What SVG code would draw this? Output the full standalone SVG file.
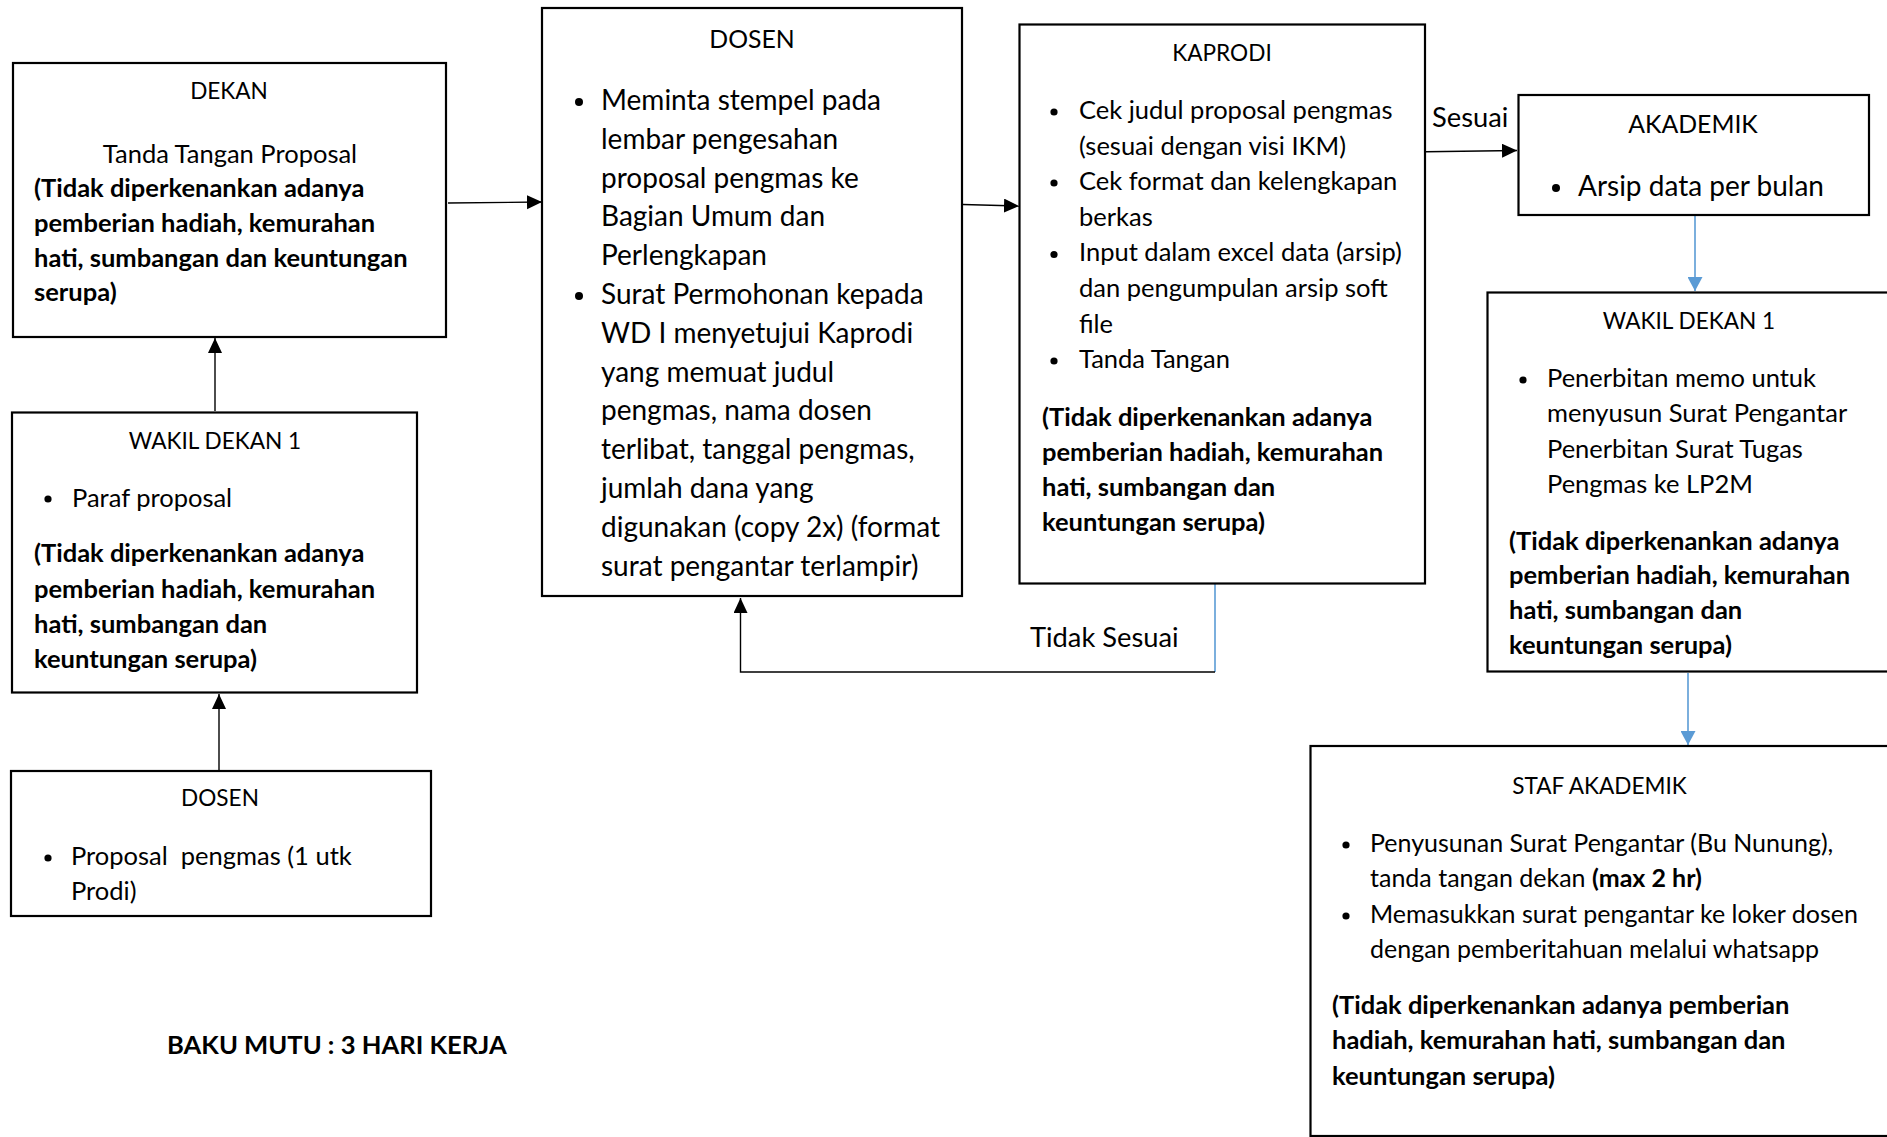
<svg xmlns="http://www.w3.org/2000/svg" width="1887" height="1137" viewBox="0 0 1887 1137">
<defs>
<style>
.box{fill:#fff;stroke:#000;stroke-width:2.2}
.t{font-family:Lato,"Liberation Sans",sans-serif;font-size:25.5px;fill:#000}
.tl{font-family:Lato,"Liberation Sans",sans-serif;font-size:28px;fill:#000}
.h{font-family:Lato,"Liberation Sans",sans-serif;font-size:22.6px;fill:#000;text-anchor:middle}
.hl{font-family:Lato,"Liberation Sans",sans-serif;font-size:24.8px;fill:#000;text-anchor:middle}
.lab{font-family:Lato,"Liberation Sans",sans-serif;font-size:27.3px;fill:#000}
.b{font-family:Lato,"Liberation Sans",sans-serif;font-size:25.5px;font-weight:bold;fill:#000}
.bl{font-family:Lato,"Liberation Sans",sans-serif;font-size:25.6px;font-weight:bold;fill:#000}
.c{text-anchor:middle}
.dot{fill:#000}
.ln{fill:none;stroke:#000;stroke-width:1.4}
.lb{fill:none;stroke:#5B9BD5;stroke-width:1.6}
</style>
<marker id="ah" markerUnits="userSpaceOnUse" markerWidth="16" markerHeight="15" refX="15" refY="7" orient="auto">
<path d="M0,0 L15,7 L0,14 z" fill="#000"/>
</marker>
<marker id="ahb" markerUnits="userSpaceOnUse" markerWidth="16" markerHeight="15" refX="14" refY="7.5" orient="auto">
<path d="M0,0 L14,7.5 L0,15 z" fill="#5B9BD5"/>
</marker>
</defs>
<rect width="1887" height="1137" fill="#fff"/>

<g id="connectors">
<line class="ln" x1="219" y1="771" x2="219" y2="694" marker-end="url(#ah)"/>
<line class="ln" x1="215" y1="411" x2="215" y2="338" marker-end="url(#ah)"/>
<line class="ln" x1="448" y1="203" x2="542" y2="202" marker-end="url(#ah)"/>
<line class="ln" x1="963" y1="204.5" x2="1019" y2="206" marker-end="url(#ah)"/>
<line class="ln" x1="1426" y1="151.7" x2="1517" y2="150.5" marker-end="url(#ah)"/>
<line class="lb" x1="1695" y1="216" x2="1695" y2="291" marker-end="url(#ahb)"/>
<line class="lb" x1="1688" y1="673" x2="1688" y2="745" marker-end="url(#ahb)"/>
<line class="lb" x1="1215" y1="584" x2="1215" y2="672"/>
<polyline class="ln" points="1215,672 740.5,672 740.5,598" marker-end="url(#ah)"/>
<text class="lab" x="1432" y="127">Sesuai</text>
<text class="lab" x="1030" y="647">Tidak Sesuai</text>
</g>

<g id="dekan">
<rect class="box" x="13" y="63" width="433" height="274"/>
<text class="h" x="229" y="99">DEKAN</text>
<text class="t c" x="230" y="163">Tanda Tangan Proposal</text>
<text class="b" x="34" y="197">(Tidak diperkenankan adanya</text>
<text class="b" x="34" y="232">pemberian hadiah, kemurahan</text>
<text class="b" x="34" y="267">hati, sumbangan dan keuntungan</text>
<text class="b" x="34" y="301">serupa)</text>
</g>

<g id="wakil-dekan-1-left">
<rect class="box" x="12" y="412.5" width="405" height="280"/>
<text class="h" x="215" y="449">WAKIL DEKAN 1</text>
<circle class="dot" cx="48" cy="499" r="3.6"/>
<text class="t" x="72" y="506.5">Paraf proposal</text>
<text class="b" x="34" y="562">(Tidak diperkenankan adanya</text>
<text class="b" x="34" y="597.5">pemberian hadiah, kemurahan</text>
<text class="b" x="34" y="633">hati, sumbangan dan</text>
<text class="b" x="34" y="668">keuntungan serupa)</text>
</g>

<g id="dosen-start">
<rect class="box" x="11" y="771" width="420" height="145"/>
<text class="h" x="220" y="805.5">DOSEN</text>
<circle class="dot" cx="48" cy="858" r="3.6"/>
<text class="t" x="71" y="865" xml:space="preserve">Proposal  pengmas (1 utk</text>
<text class="t" x="71" y="900">Prodi)</text>
</g>

<g id="dosen-main">
<rect class="box" x="542" y="8" width="420" height="588"/>
<text class="hl" x="752" y="48">DOSEN</text>
<circle class="dot" cx="579" cy="102" r="4"/>
<circle class="dot" cx="579" cy="296" r="4"/>
<text class="tl" x="601" y="110">Meminta stempel pada</text>
<text class="tl" x="601" y="148.8">lembar pengesahan</text>
<text class="tl" x="601" y="187.6">proposal pengmas ke</text>
<text class="tl" x="601" y="226.4">Bagian Umum dan</text>
<text class="tl" x="601" y="265.2">Perlengkapan</text>
<text class="tl" x="601" y="304">Surat Permohonan kepada</text>
<text class="tl" x="601" y="342.8">WD I menyetujui Kaprodi</text>
<text class="tl" x="601" y="381.6">yang memuat judul</text>
<text class="tl" x="601" y="420.4">pengmas, nama dosen</text>
<text class="tl" x="601" y="459.2">terlibat, tanggal pengmas,</text>
<text class="tl" x="601" y="498">jumlah dana yang</text>
<text class="tl" x="601" y="536.8">digunakan (copy 2x) (format</text>
<text class="tl" x="601" y="575.6">surat pengantar terlampir)</text>
</g>

<g id="kaprodi">
<rect class="box" x="1019.5" y="24.5" width="405.5" height="559"/>
<text class="h" x="1222" y="61">KAPRODI</text>
<circle class="dot" cx="1054" cy="112" r="3.6"/>
<circle class="dot" cx="1054" cy="183" r="3.6"/>
<circle class="dot" cx="1054" cy="254.5" r="3.6"/>
<circle class="dot" cx="1054" cy="361" r="3.6"/>
<text class="t" x="1079" y="119">Cek judul proposal pengmas</text>
<text class="t" x="1079" y="154.6">(sesuai dengan visi IKM)</text>
<text class="t" x="1079" y="190.2">Cek format dan kelengkapan</text>
<text class="t" x="1079" y="225.8">berkas</text>
<text class="t" x="1079" y="261.4">Input dalam excel data (arsip)</text>
<text class="t" x="1079" y="297">dan pengumpulan arsip soft</text>
<text class="t" x="1079" y="332.6">file</text>
<text class="t" x="1079" y="368.2">Tanda Tangan</text>
<text class="b" x="1042" y="425.6">(Tidak diperkenankan adanya</text>
<text class="b" x="1042" y="460.6">pemberian hadiah, kemurahan</text>
<text class="b" x="1042" y="495.6">hati, sumbangan dan</text>
<text class="b" x="1042" y="530.6">keuntungan serupa)</text>
</g>

<g id="akademik">
<rect class="box" x="1518.5" y="95" width="350.5" height="120"/>
<text class="hl" x="1693" y="133">AKADEMIK</text>
<circle class="dot" cx="1556" cy="188" r="4"/>
<text class="tl" x="1578" y="196">Arsip data per bulan</text>
</g>

<g id="wakil-dekan-1-right">
<rect class="box" x="1487.5" y="292.5" width="420" height="379"/>
<text class="h" x="1689" y="329">WAKIL DEKAN 1</text>
<circle class="dot" cx="1523" cy="380" r="3.6"/>
<text class="t" x="1547" y="387">Penerbitan memo untuk</text>
<text class="t" x="1547" y="422.4">menyusun Surat Pengantar</text>
<text class="t" x="1547" y="457.8">Penerbitan Surat Tugas</text>
<text class="t" x="1547" y="493.2">Pengmas ke LP2M</text>
<text class="b" x="1509" y="549.5">(Tidak diperkenankan adanya</text>
<text class="b" x="1509" y="584.4">pemberian hadiah, kemurahan</text>
<text class="b" x="1509" y="619.3">hati, sumbangan dan</text>
<text class="b" x="1509" y="654.2">keuntungan serupa)</text>
</g>

<g id="staf-akademik">
<rect class="box" x="1310.5" y="746" width="600" height="390"/>
<text class="h" x="1599.5" y="794">STAF AKADEMIK</text>
<circle class="dot" cx="1346" cy="845" r="3.6"/>
<circle class="dot" cx="1346" cy="916" r="3.6"/>
<text class="t" x="1370" y="851.6" style="font-size:25px">Penyusunan Surat Pengantar (Bu Nunung),</text>
<text class="t" x="1370" y="886.5" style="font-size:25px">tanda tangan dekan <tspan font-weight="bold">(max 2 hr)</tspan></text>
<text class="t" x="1370" y="922.6" style="font-size:25px">Memasukkan surat pengantar ke loker dosen</text>
<text class="t" x="1370" y="957.5" style="font-size:25px">dengan pemberitahuan melalui whatsapp</text>
<text class="b" x="1332" y="1014">(Tidak diperkenankan adanya pemberian</text>
<text class="b" x="1332" y="1049">hadiah, kemurahan hati, sumbangan dan</text>
<text class="b" x="1332" y="1085">keuntungan serupa)</text>
</g>

<g id="baku-mutu">
<text class="bl" x="167" y="1054">BAKU MUTU : 3 HARI KERJA</text>
</g>
</svg>
